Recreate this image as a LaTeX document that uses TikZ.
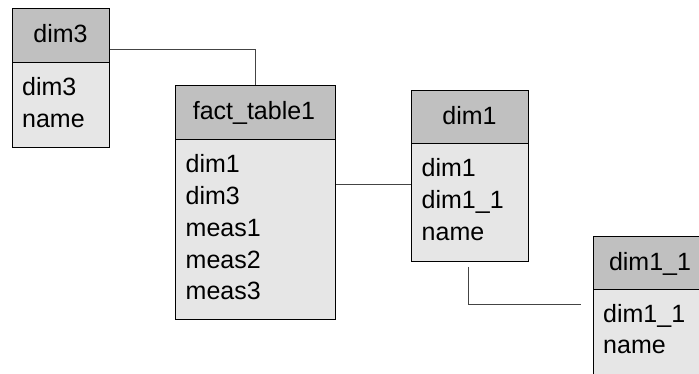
\documentclass[tikz,border=0pt]{standalone}
\usepackage{fontspec}
\setmainfont{Liberation Sans}
\definecolor{hdrgray}{HTML}{C0C0C0}
\definecolor{bodygray}{HTML}{E6E6E6}
\definecolor{linkgray}{HTML}{444444}
\begin{document}
\begin{tikzpicture}[x=1pt,y=-1pt,
  hdr/.style={draw=black, line width=1.3pt, fill=hdrgray, anchor=north west,
    inner sep=0pt, minimum height=54pt},
  tbody/.style={draw=black, line width=1.3pt, fill=bodygray, anchor=north west,
    inner sep=0pt},
  title/.style={anchor=base, inner sep=0pt, font=\fontsize{25}{25}\selectfont},
  field/.style={anchor=base west, inner sep=0pt, font=\fontsize{25}{25}\selectfont},
  link/.style={draw=linkgray, line width=0.9pt}
]
\useasboundingbox (0,0) rectangle (699,374);
\clip (0,0) rectangle (699,374);

% table dim3
\node[tbody, minimum width=97pt, minimum height=85pt] (dim3b) at (12,62) {};
\node[hdr, minimum width=97pt] (dim3h) at (12,8) {};
\node[title] (dim3t) at (60.5,43) {dim3};
\node[field] (dim3f1) at (22,96) {dim3};
\node[field] (dim3f2) at (22,127.7) {name};

% table fact_table1
\node[tbody, minimum width=160pt, minimum height=180pt] (factb) at (175,139) {};
\node[hdr, minimum width=160pt] (facth) at (175,85) {};
\node[title] (factt) at (254,120) {fact\_table1};
\node[field] (factf1) at (185.5,173) {dim1};
\node[field] (factf2) at (185.5,204.7) {dim3};
\node[field] (factf3) at (185.5,236.4) {meas1};
\node[field] (factf4) at (185.5,268.1) {meas2};
\node[field] (factf5) at (185.5,299.8) {meas3};

% table dim1
\node[tbody, minimum width=117pt, minimum height=118pt] (dim1b) at (411,143) {};
\node[hdr, minimum width=117pt, minimum height=53pt] (dim1h) at (411,90) {};
\node[title] (dim1t) at (469.5,125) {dim1};
\node[field] (dim1f1) at (421.5,177) {dim1};
\node[field] (dim1f2) at (421.5,208.7) {dim1\_1};
\node[field] (dim1f3) at (421.5,240.4) {name};

% table dim1_1
\node[tbody, minimum width=114pt, minimum height=100pt] (dim11b) at (593,289) {};
\node[hdr, minimum width=114pt, minimum height=53pt] (dim11h) at (593,236) {};
\node[title] (dim11t) at (650,271) {dim1\_1};
\node[field] (dim11f1) at (603,322) {dim1\_1};
\node[field] (dim11f2) at (603,353.7) {name};

% relationships
\coordinate (j1) at (dim3h.east |- 0,49);
\draw[link] (j1) -| (facth.north);
\coordinate (j2a) at (factb.east |- 0,184);
\coordinate (j2b) at (dim1b.west |- 0,184);
\draw[link] (j2a) -- (j2b);
\coordinate (j3a) at (468,267);
\coordinate (j3b) at (581,304);
\draw[link] (j3a) |- (j3b);
\end{tikzpicture}
\end{document}
